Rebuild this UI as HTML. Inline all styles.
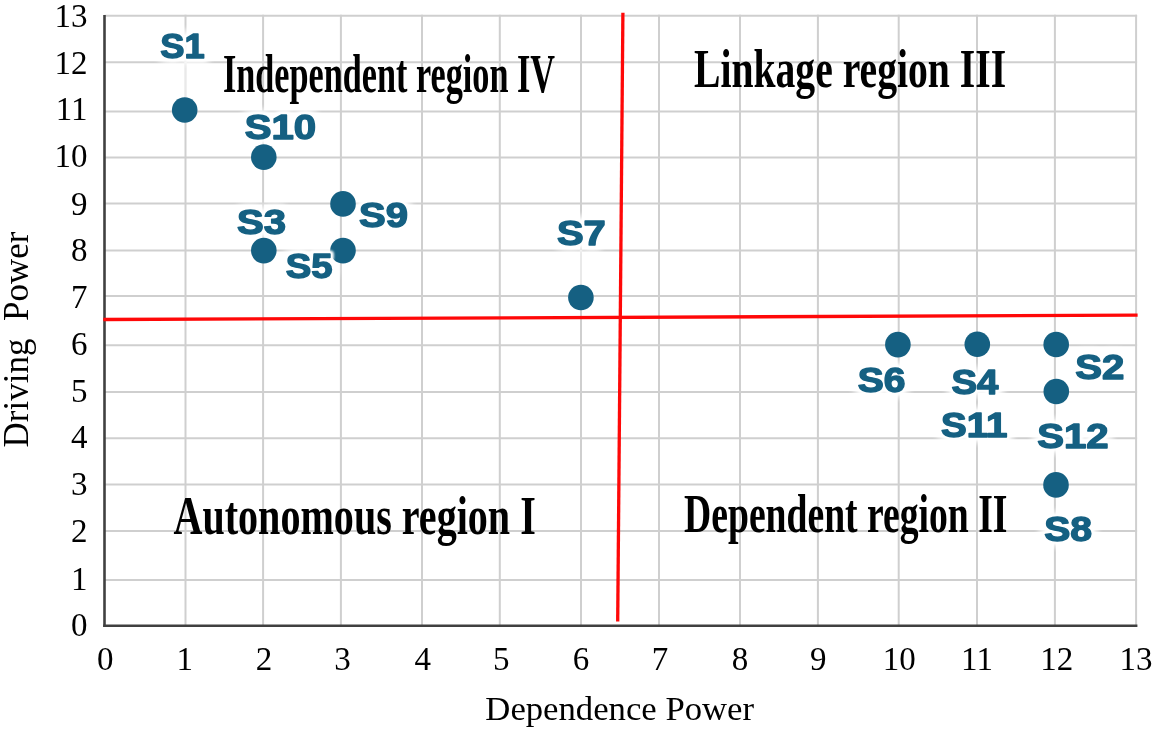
<!DOCTYPE html>
<html lang="en">
<head>
<meta charset="utf-8">
<title>Driving power and dependence power diagram</title>
<style>
html,body{margin:0;padding:0;background:#fff;}
body{width:1155px;height:732px;overflow:hidden;}
svg{display:block;}
.tick{font-family:"Liberation Serif",serif;font-size:33px;fill:#000;}
.title{font-family:"Liberation Serif",serif;font-size:34.5px;fill:#000;}
.region{font-family:"Liberation Serif",serif;font-weight:bold;font-size:55px;fill:#000;}
.lab{font-family:"Liberation Sans",sans-serif;font-weight:bold;font-size:34.5px;}
.halo{fill:#fff;stroke:#fff;stroke-width:7;stroke-linejoin:round;}
.halo2{fill:#fff;stroke:#fff;stroke-width:14;stroke-linejoin:round;}
.ink{fill:#156082;stroke:#156082;stroke-width:1.4;stroke-linejoin:round;}
</style>
</head>
<body>
<svg width="1155" height="732" viewBox="0 0 1155 732">
<rect x="0" y="0" width="1155" height="732" fill="#ffffff"/>
<g stroke="#cfcfcf" stroke-width="2.0" fill="none">
<line x1="185.5" y1="14.8" x2="185.5" y2="625.8"/>
<line x1="263.1" y1="14.8" x2="263.1" y2="625.8"/>
<line x1="340.9" y1="14.8" x2="340.9" y2="625.8"/>
<line x1="422.0" y1="14.8" x2="422.0" y2="625.8"/>
<line x1="499.8" y1="14.8" x2="499.8" y2="625.8"/>
<line x1="581.0" y1="14.8" x2="581.0" y2="625.8"/>
<line x1="659.0" y1="14.8" x2="659.0" y2="625.8"/>
<line x1="740.0" y1="14.8" x2="740.0" y2="625.8"/>
<line x1="817.9" y1="14.8" x2="817.9" y2="625.8"/>
<line x1="898.7" y1="14.8" x2="898.7" y2="625.8"/>
<line x1="977.0" y1="14.8" x2="977.0" y2="625.8"/>
<line x1="1054.9" y1="14.8" x2="1054.9" y2="625.8"/>
<line x1="1136.1" y1="14.8" x2="1136.1" y2="625.8"/>
<line x1="104.5" y1="580.1" x2="1137.1" y2="580.1"/>
<line x1="104.5" y1="530.9" x2="1137.1" y2="530.9"/>
<line x1="104.5" y1="484.4" x2="1137.1" y2="484.4"/>
<line x1="104.5" y1="438.2" x2="1137.1" y2="438.2"/>
<line x1="104.5" y1="391.9" x2="1137.1" y2="391.9"/>
<line x1="104.5" y1="345.3" x2="1137.1" y2="345.3"/>
<line x1="104.5" y1="296.0" x2="1137.1" y2="296.0"/>
<line x1="104.5" y1="250.5" x2="1137.1" y2="250.5"/>
<line x1="104.5" y1="203.6" x2="1137.1" y2="203.6"/>
<line x1="104.5" y1="157.5" x2="1137.1" y2="157.5"/>
<line x1="104.5" y1="111.5" x2="1137.1" y2="111.5"/>
<line x1="104.5" y1="62.3" x2="1137.1" y2="62.3"/>
<line x1="104.5" y1="15.8" x2="1137.1" y2="15.8"/>
</g>
<g stroke="#404040" stroke-width="2.6" fill="none" stroke-linecap="square">
<line x1="104.5" y1="16.3" x2="104.5" y2="625.8"/>
<line x1="104.5" y1="625.8" x2="1136.1" y2="625.8"/>
</g>
<g stroke="#ff0808" stroke-width="3.3" fill="none">
<line x1="103.3" y1="319.5" x2="1137.6" y2="315.2"/>
<line x1="622.9" y1="12.7" x2="617.7" y2="621.6"/>
</g>
<defs><filter id="glow" x="-20%" y="-30%" width="140%" height="160%"><feGaussianBlur stdDeviation="0.8"/></filter><filter id="glow2" x="-30%" y="-50%" width="160%" height="200%"><feGaussianBlur stdDeviation="2.5"/></filter></defs>
<g stroke="#ffffff" stroke-opacity="0.55" stroke-width="2.4" fill="none">
<line x1="185.5" y1="62" x2="185.5" y2="98"/>
<line x1="581.0" y1="250" x2="581.0" y2="285"/>
</g>
<g class="lab halo2" filter="url(#glow2)" opacity="0.7">
<text id="g0" transform="translate(160.20 58.00) scale(1.0533 1)" x="0" y="0">S1</text>
<text id="g1" transform="translate(244.70 139.25) scale(1.1635 1)" x="0" y="0">S10</text>
<text id="g2" transform="translate(237.00 234.35) scale(1.1608 1)" x="0" y="0">S3</text>
<text id="g3" transform="translate(359.00 226.50) scale(1.1592 1)" x="0" y="0">S9</text>
<text id="g4" transform="translate(285.80 278.45) scale(1.1101 1)" x="0" y="0">S5</text>
<text id="g5" transform="translate(556.90 245.40) scale(1.1590 1)" x="0" y="0">S7</text>
<text id="g6" transform="translate(857.80 391.60) scale(1.1303 1)" x="0" y="0">S6</text>
<text id="g7" transform="translate(951.40 394.30) scale(1.1102 1)" x="0" y="0">S4</text>
<text id="g8" transform="translate(1075.20 379.15) scale(1.1638 1)" x="0" y="0">S2</text>
<text id="g9" transform="translate(941.10 436.80) scale(1.1174 1)" x="0" y="0">S11</text>
<text id="g10" transform="translate(1037.30 447.70) scale(1.1635 1)" x="0" y="0">S12</text>
<text id="g11" transform="translate(1044.20 540.90) scale(1.1346 1)" x="0" y="0">S8</text>
</g>
<g fill="#156082">
<circle cx="184.7" cy="110.0" r="12.8"/>
<circle cx="263.8" cy="157.1" r="12.8"/>
<circle cx="343.0" cy="203.9" r="12.8"/>
<circle cx="263.8" cy="250.6" r="12.8"/>
<circle cx="343.0" cy="250.6" r="12.8"/>
<circle cx="580.9" cy="297.5" r="12.8"/>
<circle cx="897.9" cy="344.6" r="12.8"/>
<circle cx="977.3" cy="344.2" r="12.8"/>
<circle cx="1056.2" cy="344.5" r="12.8"/>
<circle cx="1056.3" cy="391.5" r="12.8"/>
<circle cx="1056.0" cy="484.9" r="12.8"/>
</g>
<g class="lab halo" filter="url(#glow)">
<text id="h0" transform="translate(160.20 58.00) scale(1.0533 1)" x="0" y="0">S1</text>
<text id="h1" transform="translate(244.70 139.25) scale(1.1635 1)" x="0" y="0">S10</text>
<text id="h2" transform="translate(237.00 234.35) scale(1.1608 1)" x="0" y="0">S3</text>
<text id="h3" transform="translate(359.00 226.50) scale(1.1592 1)" x="0" y="0">S9</text>
<text id="h4" transform="translate(285.80 278.45) scale(1.1101 1)" x="0" y="0">S5</text>
<text id="h5" transform="translate(556.90 245.40) scale(1.1590 1)" x="0" y="0">S7</text>
<text id="h6" transform="translate(857.80 391.60) scale(1.1303 1)" x="0" y="0">S6</text>
<text id="h7" transform="translate(951.40 394.30) scale(1.1102 1)" x="0" y="0">S4</text>
<text id="h8" transform="translate(1075.20 379.15) scale(1.1638 1)" x="0" y="0">S2</text>
<text id="h9" transform="translate(941.10 436.80) scale(1.1174 1)" x="0" y="0">S11</text>
<text id="h10" transform="translate(1037.30 447.70) scale(1.1635 1)" x="0" y="0">S12</text>
<text id="h11" transform="translate(1044.20 540.90) scale(1.1346 1)" x="0" y="0">S8</text>
</g>
<g class="lab ink">
<text id="i0" transform="translate(160.20 58.00) scale(1.0533 1)" x="0" y="0">S1</text>
<text id="i1" transform="translate(244.70 139.25) scale(1.1635 1)" x="0" y="0">S10</text>
<text id="i2" transform="translate(237.00 234.35) scale(1.1608 1)" x="0" y="0">S3</text>
<text id="i3" transform="translate(359.00 226.50) scale(1.1592 1)" x="0" y="0">S9</text>
<text id="i4" transform="translate(285.80 278.45) scale(1.1101 1)" x="0" y="0">S5</text>
<text id="i5" transform="translate(556.90 245.40) scale(1.1590 1)" x="0" y="0">S7</text>
<text id="i6" transform="translate(857.80 391.60) scale(1.1303 1)" x="0" y="0">S6</text>
<text id="i7" transform="translate(951.40 394.30) scale(1.1102 1)" x="0" y="0">S4</text>
<text id="i8" transform="translate(1075.20 379.15) scale(1.1638 1)" x="0" y="0">S2</text>
<text id="i9" transform="translate(941.10 436.80) scale(1.1174 1)" x="0" y="0">S11</text>
<text id="i10" transform="translate(1037.30 447.70) scale(1.1635 1)" x="0" y="0">S12</text>
<text id="i11" transform="translate(1044.20 540.90) scale(1.1346 1)" x="0" y="0">S8</text>
</g>
<g class="region">
<text id="r0" transform="translate(223.00 92.40) scale(0.6221 1)" x="0" y="0">Independent region IV</text>
<text id="r1" transform="translate(694.00 87.00) scale(0.7208 1)" x="0" y="0">Linkage region III</text>
<text id="r2" transform="translate(173.50 533.70) scale(0.7290 1)" x="0" y="0">Autonomous region I</text>
<text id="r3" transform="translate(684.10 532.00) scale(0.6845 1)" x="0" y="0">Dependent region II</text>
</g>
<g class="tick" text-anchor="end">
<text x="87.5" y="635.8">0</text>
<text x="87.5" y="590.1">1</text>
<text x="87.5" y="542.4">2</text>
<text x="87.5" y="494.7">3</text>
<text x="87.5" y="448.2">4</text>
<text x="87.5" y="401.9">5</text>
<text x="87.5" y="355.3">6</text>
<text x="87.5" y="307.7">7</text>
<text x="87.5" y="260.7">8</text>
<text x="87.5" y="214.6">9</text>
<text x="87.5" y="166.5">10</text>
<text x="87.5" y="119.9">11</text>
<text x="87.5" y="74.3">12</text>
<text x="87.5" y="26.5">13</text>
</g>
<g class="tick" text-anchor="middle">
<text x="105.3" y="669.5">0</text>
<text x="184.8" y="669.5">1</text>
<text x="264.0" y="669.5">2</text>
<text x="342.4" y="669.5">3</text>
<text x="422.8" y="669.5">4</text>
<text x="501.3" y="669.5">5</text>
<text x="581.0" y="669.5">6</text>
<text x="660.0" y="669.5">7</text>
<text x="740.0" y="669.5">8</text>
<text x="818.2" y="669.5">9</text>
<text x="899.2" y="669.5">10</text>
<text x="977.0" y="669.5">11</text>
<text x="1056.8" y="669.5">12</text>
<text x="1136.1" y="669.5">13</text>
</g>
<text id="xt" class="title" style="font-size:34.7px" text-anchor="middle" x="619.7" y="720.1">Dependence Power</text>
<text id="yt" class="title" text-anchor="middle" xml:space="preserve" style="white-space:pre;font-size:35px" transform="translate(28.3 339.5) rotate(-90)" x="0" y="0">Driving  Power</text>
</svg>
</body>
</html>
